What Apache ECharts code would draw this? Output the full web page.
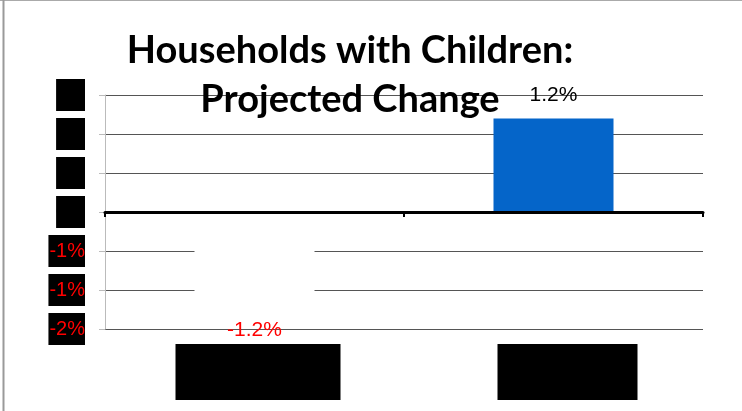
<!DOCTYPE html>
<html>
<head>
<meta charset="utf-8">
<script src="https://cdn.jsdelivr.net/npm/echarts@6/dist/echarts.min.js"></script>
<style>
  html, body { margin: 0; padding: 0; background: #fff; }
  #chart { width: 742px; height: 411px; }
</style>
</head>
<body>
<div id="chart"></div>
<script>
// Projected change in households with children, by area
const categories = ['2000 to 2010', '2010 to 2020'];
const changeValues = [-1.2, 1.2];
const barColors = ['#ffffff', '#0565C9'];
const yTickLabels = ['-2%', '-1%', '-1%', '0%', '1%', '1%', '2%'];

const chart = echarts.init(document.getElementById('chart'), null, { renderer: 'canvas' });

const labelFont = '"Liberation Sans", Arial, sans-serif';

chart.setOption({
  animation: false,
  backgroundColor: '#ffffff',
  title: {
    text: 'Households with Children:\nProjected Change',
    left: 345,
    top: 21,
    textAlign: 'center',
    textStyle: {
      fontFamily: 'Lato, "Open Sans", sans-serif',
      fontWeight: 'bold',
      fontSize: 38,
      lineHeight: 49,
      color: '#000'
    }
  },
  graphic: [
    { type: 'line', shape: { x1: 0, y1: 0.5, x2: 742, y2: 0.5 }, style: { stroke: '#aaaaaa', lineWidth: 1 }, silent: true },
    { type: 'line', shape: { x1: 3.5, y1: 0, x2: 3.5, y2: 411 }, style: { stroke: '#9a9a9a', lineWidth: 2 }, silent: true }
  ],
  grid: { left: 105, right: 39, top: 95, bottom: 82 },
  xAxis: [
    {
      type: 'category',
      data: categories,
      axisLine: { onZero: true, lineStyle: { color: '#000', width: 3 } },
      axisTick: { show: true, length: 5, lineStyle: { color: '#000', width: 2 } },
      axisLabel: { show: false },
      z: 5
    },
    {
      type: 'category',
      data: categories,
      position: 'bottom',
      axisLine: { show: false, onZero: false },
      axisTick: { show: false },
      axisLabel: {
        margin: 15,
        formatter: function (v, i) {
          return i === 0 ? '{s1| }{cA|' + v + '}' : '{s2| }{cB|' + v + '}';
        },
        rich: {
          s1: { width: 7, height: 56, color: 'transparent' },
          s2: { width: 28, height: 56, color: 'transparent' },
          cA: { width: 165, height: 56, backgroundColor: '#000', color: '#000', align: 'center', fontSize: 16 },
          cB: { width: 140, height: 56, backgroundColor: '#000', color: '#000', align: 'center', fontSize: 16 }
        }
      }
    }
  ],
  yAxis: {
    type: 'value',
    min: -1.5,
    max: 1.5,
    interval: 0.5,
    axisLine: { show: true, lineStyle: { color: '#bbbbbb', width: 1 } },
    axisTick: { show: true, length: 6, lineStyle: { color: '#bbbbbb' } },
    splitLine: { show: true, lineStyle: { color: '#555555', width: 1 } },
    axisLabel: {
      margin: 20,
      formatter: function (v, i) {
        const t = yTickLabels[i];
        return v < 0 ? '{neg|' + t + '}' : '{pos|' + t + '}';
      },
      rich: {
        pos: {
          fontFamily: labelFont, fontSize: 20, lineHeight: 16,
          color: '#000', backgroundColor: '#000', padding: [6, 0, 6, 0]
        },
        neg: {
          fontFamily: labelFont, fontSize: 20, lineHeight: 16,
          color: '#ff0000', backgroundColor: '#000', padding: [6, 0, 6, 1]
        }
      }
    }
  },
  series: [{
    type: 'bar',
    xAxisIndex: 0,
    barWidth: 120,
    data: changeValues.map(function (v, i) {
      return {
        value: v,
        itemStyle: { color: barColors[i] },
        label: v < 0
          ? { position: 'bottom', distance: 14, color: '#ff0000' }
          : { position: 'top', distance: 13, color: '#000' }
      };
    }),
    label: {
      show: true,
      fontFamily: labelFont,
      fontSize: 21,
      formatter: function (p) { return p.value.toFixed(1) + '%'; }
    }
  }]
});
</script>
</body>
</html>
